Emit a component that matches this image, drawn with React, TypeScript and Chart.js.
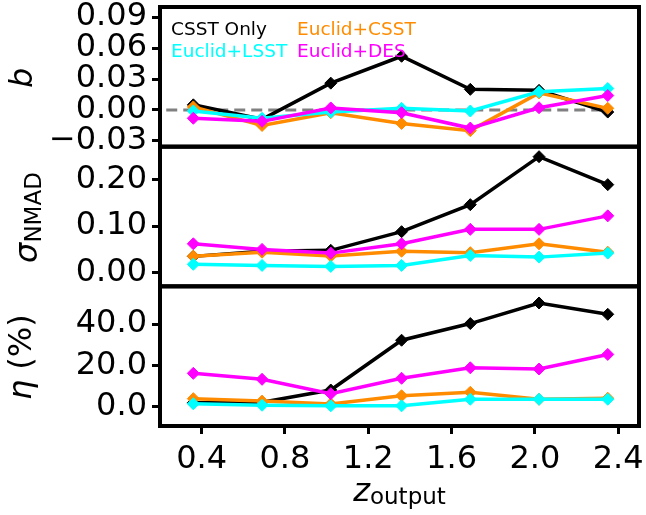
import React, { useEffect, useRef } from 'react';
import { Chart, registerables } from 'chart.js';

Chart.register(...registerables);

// ---------- data ----------
const zBins = [0.36, 0.69, 1.02, 1.36, 1.69, 2.02, 2.35];
const seriesNames = ['CSST Only', 'Euclid+CSST', 'Euclid+LSST', 'Euclid+DES'];
const seriesColors = ['#000000', '#ff8c00', '#00ffff', '#ff00ff'];

const biasCSST = [0.005, -0.009, 0.026, 0.052, 0.02, 0.019, -0.002];
const biasEuclidCSST = [0.003, -0.015, -0.0026, -0.013, -0.02, 0.0166, 0.0016];
const biasEuclidLSST = [-0.001, -0.008, -0.002, 0.0016, -0.001, 0.0176, 0.0208];
const biasEuclidDES = [-0.008, -0.011, 0.002, -0.0026, -0.0175, 0.0022, 0.014];

const sigmaCSST = [0.035, 0.046, 0.048, 0.088, 0.146, 0.249, 0.189];
const sigmaEuclidCSST = [0.0355, 0.044, 0.036, 0.046, 0.043, 0.062, 0.044];
const sigmaEuclidLSST = [0.018, 0.0156, 0.0135, 0.0156, 0.037, 0.0334, 0.042];
const sigmaEuclidDES = [0.062, 0.05, 0.042, 0.062, 0.093, 0.093, 0.122];

const etaCSST = [1.8, 2.1, 8.0, 32.2, 40.3, 50.3, 44.8];
const etaEuclidCSST = [3.8, 2.6, 1.2, 5.2, 6.9, 3.5, 4.0];
const etaEuclidLSST = [1.3, 0.6, 0.3, 0.3, 3.5, 3.5, 3.5];
const etaEuclidDES = [16.1, 13.2, 6.2, 13.7, 18.8, 18.2, 25.3];

const zeroLineX = [0.23, 2.35];
const zeroLineY = [0, 0];

const zTicks = [0.4, 0.8, 1.2, 1.6, 2.0, 2.4];
const bTicks = [-0.03, 0, 0.03, 0.06, 0.09];
const sigmaTicks = [0, 0.1, 0.2];
const etaTicks = [0, 20, 40];

const zRange = [0.2, 2.5];
const bRange = [-0.0355, 0.0997];
const sigmaRange = [-0.0293, 0.2705];
const etaRange = [-9.5, 58.4];

// ---------- helpers ----------
const FONT = '"DejaVu Sans", sans-serif';
const fmt = (digits: number) => (v: number | string) => {
  const n = Number(v);
  const s = Math.abs(n).toFixed(digits);
  return n < -1e-12 ? '\u2212' + s : s;
};

type Part = { t: string; font: string; dy: number };
function drawParts(ctx: CanvasRenderingContext2D, parts: Part[], x: number, y: number, center: boolean) {
  const widths = parts.map((p) => {
    ctx.font = p.font;
    return ctx.measureText(p.t).width;
  });
  const total = widths.reduce((a, b) => a + b, 0);
  let cx = center ? x - total / 2 : x;
  parts.forEach((p, i) => {
    ctx.font = p.font;
    ctx.fillText(p.t, cx, y + p.dy);
    cx += widths[i];
  });
}

const decorPlugin = {
  id: 'decor',
  afterDatasetsDraw(chart: any) {
    const ctx: CanvasRenderingContext2D = chart.ctx;
    const xs = chart.scales.x;
    ctx.save();
    ctx.strokeStyle = '#000';
    ctx.lineWidth = 4;
    for (const id of ['yB', 'ySig', 'yEta']) {
      const s = chart.scales[id];
      ctx.strokeRect(xs.left, s.top, xs.right - xs.left, s.bottom - s.top);
    }
    ctx.restore();
  },
  afterDraw(chart: any) {
    const ctx: CanvasRenderingContext2D = chart.ctx;
    const xs = chart.scales.x;
    ctx.save();
    ctx.fillStyle = '#000';
    ctx.textBaseline = 'alphabetic';
    ctx.textAlign = 'left';
    const titles: { id: string; bx: number; parts: Part[] }[] = [
      { id: 'yB', bx: 32, parts: [{ t: 'b', font: `italic 32px ${FONT}`, dy: 0 }] },
      {
        id: 'ySig',
        bx: 37,
        parts: [
          { t: '\u03c3', font: `italic 32px ${FONT}`, dy: 0 },
          { t: 'NMAD', font: `23px ${FONT}`, dy: 4 },
        ],
      },
      {
        id: 'yEta',
        bx: 31,
        parts: [
          { t: '\u03b7', font: `italic 32px ${FONT}`, dy: 0 },
          { t: ' (%)', font: `32px ${FONT}`, dy: 0 },
        ],
      },
    ];
    for (const t of titles) {
      const s = chart.scales[t.id];
      ctx.save();
      ctx.translate(t.bx, (s.top + s.bottom) / 2 + 1);
      ctx.rotate(-Math.PI / 2);
      drawParts(ctx, t.parts, 0, 0, true);
      ctx.restore();
    }
    // x title
    drawParts(
      ctx,
      [
        { t: 'z', font: `italic 32px ${FONT}`, dy: 0 },
        { t: 'output', font: `23px ${FONT}`, dy: 3 },
      ],
      (xs.left + xs.right) / 2,
      501,
      true
    );
    // legend
    const yb = chart.scales.yB;
    const lx1 = xs.left + 11;
    const lx2 = xs.left + 137;
    const ly1 = yb.top + 28;
    const ly2 = yb.top + 50;
    ctx.font = `18.5px ${FONT}`;
    const pos = [
      [lx1, ly1],
      [lx2, ly1],
      [lx1, ly2],
      [lx2, ly2],
    ];
    seriesNames.forEach((n, i) => {
      ctx.fillStyle = seriesColors[i];
      ctx.fillText(n, pos[i][0], pos[i][1]);
    });
    ctx.restore();
  },
};

function mkY(range: number[], ticks: number[], digits: number) {
  return {
    type: 'linear',
    position: 'left',
    stack: 'panels',
    stackWeight: 1,
    min: range[0],
    max: range[1],
    afterBuildTicks: (s: any) => {
      s.ticks = ticks.map((v) => ({ value: v }));
    },
    afterFit: (s: any) => {
      s.width = 160;
      s.paddingTop = 0;
      s.paddingBottom = 0;
      s.paddingLeft = 0;
      s.paddingRight = 0;
    },
    ticks: {
      autoSkip: false,
      font: { family: FONT, size: 32 },
      color: '#000',
      padding: 5,
      callback: fmt(digits),
    },
    grid: {
      display: true,
      drawOnChartArea: false,
      drawTicks: true,
      tickLength: 8,
      tickWidth: 3,
      tickColor: '#000',
    },
    border: { display: false },
  };
}

function mkSeries(arr: number[], i: number, yAxisID: string) {
  const order = [3, 2, 1, 0][i];
  return {
    label: seriesNames[i],
    data: zBins.map((x, k) => ({ x, y: arr[k] })),
    yAxisID,
    xAxisID: 'x',
    borderColor: seriesColors[i],
    backgroundColor: seriesColors[i],
    pointBackgroundColor: seriesColors[i],
    pointBorderColor: seriesColors[i],
    borderWidth: 3.5,
    pointStyle: 'rectRot',
    pointRadius: 6,
    pointBorderWidth: 1,
    tension: 0,
    order,
  };
}

export default function App() {
  const ref = useRef<HTMLCanvasElement>(null);
  useEffect(() => {
    if (!ref.current) return;
    const panels: [string, number[][]][] = [
      ['yB', [biasCSST, biasEuclidCSST, biasEuclidLSST, biasEuclidDES]],
      ['ySig', [sigmaCSST, sigmaEuclidCSST, sigmaEuclidLSST, sigmaEuclidDES]],
      ['yEta', [etaCSST, etaEuclidCSST, etaEuclidLSST, etaEuclidDES]],
    ];
    const datasets: any[] = [
      {
        label: 'zero',
        data: zeroLineX.map((x, k) => ({ x, y: zeroLineY[k] })),
        yAxisID: 'yB',
        xAxisID: 'x',
        borderColor: '#808080',
        borderWidth: 3,
        borderDash: [11, 6],
        pointRadius: 0,
        order: 10,
      },
    ];
    panels.forEach(([id, arrs]) => arrs.forEach((a, i) => datasets.push(mkSeries(a, i, id))));
    const chart = new Chart(ref.current, {
      type: 'line',
      data: { datasets },
      options: {
        animation: false,
        responsive: false,
        maintainAspectRatio: false,
        devicePixelRatio: 1,
        layout: { padding: { top: 5, right: 6, left: 0, bottom: 0 } },
        plugins: { legend: { display: false }, tooltip: { enabled: false } },
        scales: {
          x: {
            type: 'linear',
            position: 'bottom',
            min: zRange[0],
            max: zRange[1],
            afterBuildTicks: (s: any) => {
              s.ticks = zTicks.map((v) => ({ value: v }));
            },
            afterFit: (s: any) => {
              s.height = 89;
              s.paddingLeft = 0;
              s.paddingRight = 0;
              s.paddingTop = 0;
              s.paddingBottom = 0;
            },
            ticks: {
              autoSkip: false,
              maxRotation: 0,
              font: { family: FONT, size: 32 },
              color: '#000',
              padding: 6,
              callback: fmt(1),
            },
            grid: {
              display: true,
              drawOnChartArea: false,
              drawTicks: true,
              tickLength: 8,
              tickWidth: 3,
              tickColor: '#000',
            },
            border: { display: false },
          },
          yEta: mkY(etaRange, etaTicks, 1),
          ySig: mkY(sigmaRange, sigmaTicks, 2),
          yB: mkY(bRange, bTicks, 2),
        } as any,
      },
      plugins: [decorPlugin as any],
    });
    return () => chart.destroy();
  }, []);
  return (
    <div style={{ position: 'absolute', left: 0, top: 0, width: 646, height: 515, background: '#fff' }}>
      <canvas ref={ref} width={646} height={515} style={{ width: 646, height: 515 }} />
    </div>
  );
}
